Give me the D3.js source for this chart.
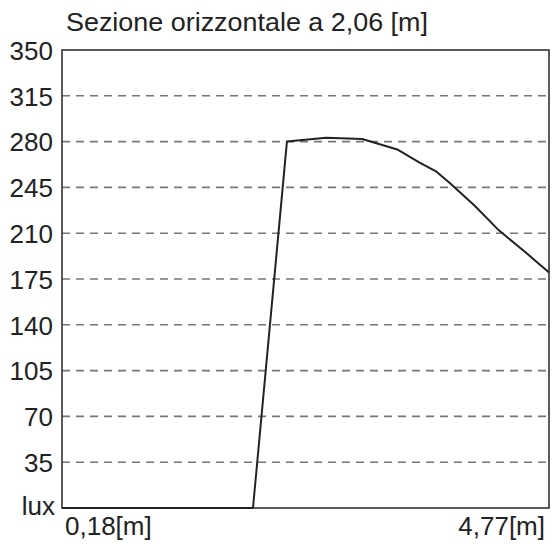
<!DOCTYPE html>
<html><head><meta charset="utf-8">
<script src="https://cdn.jsdelivr.net/npm/d3@7"></script>
<style>body{margin:0;background:#fff}svg{display:block}</style>
</head><body><svg id="c" width="553" height="544"></svg>
<script>
const title = "Sezione orizzontale a 2,06 [m]";
const xPos = [0.18, 1.98, 2.30, 2.67, 3.01, 3.34, 3.55, 3.71, 3.84, 4.07, 4.30, 4.54, 4.77];
const lux  = [0,    0,    280,  283,  282,  274,  264,  257,  248,  231,  212,  196,  180];
const yTicks = [35, 70, 105, 140, 175, 210, 245, 280, 315, 350];
const xLabels = ["0,18[m]", "4,77[m]"];
const yUnit = "lux";

const svg = d3.select("#c");
const font = "'Liberation Sans', Arial, sans-serif";
const fs = 26;
const m = {l:62, r:549, t:50, b:508};
const x = d3.scaleLinear().domain([0.18, 4.77]).range([m.l, m.r]);
const y = d3.scaleLinear().domain([0, 350]).range([m.b, m.t]);

// gridlines
svg.append("g").selectAll("line").data(yTicks.filter(d => d < 350)).join("line")
  .attr("x1", m.l).attr("x2", m.r)
  .attr("y1", d => y(d)).attr("y2", d => y(d))
  .attr("stroke", "#777").attr("stroke-width", 1.6).attr("stroke-dasharray", "8,6");

// frame
svg.append("rect").attr("x", m.l).attr("y", m.t).attr("width", m.r - m.l).attr("height", m.b - m.t)
  .attr("fill", "none").attr("stroke", "#333").attr("stroke-width", 1.6);

// y labels
const yAxis = d3.axisLeft(y).tickValues(yTicks).tickSize(0).tickPadding(9);
const ga = svg.append("g").attr("transform", `translate(${m.l},0)`).call(yAxis);
ga.select(".domain").remove();
ga.selectAll("text").attr("font-family", font).attr("font-size", fs).attr("fill", "#222").attr("dy", "0.36em");
svg.append("text").attr("x", m.l - 7).attr("y", y(0)).attr("dy", "0.25em").attr("text-anchor", "end")
  .attr("font-family", font).attr("font-size", fs).attr("fill", "#222").text(yUnit);

// x labels
svg.append("text").attr("x", x(0.18) + 3).attr("y", 535).attr("font-family", font).attr("font-size", fs)
  .attr("fill", "#222").text(xLabels[0]);
svg.append("text").attr("x", x(4.77) - 4).attr("y", 535).attr("text-anchor", "end").attr("font-family", font)
  .attr("font-size", fs).attr("fill", "#222").text(xLabels[1]);

// title
svg.append("text").attr("x", 66).attr("y", 31).attr("font-family", font).attr("font-size", fs)
  .attr("textLength", 362).attr("lengthAdjust", "spacingAndGlyphs")
  .attr("fill", "#222").text(title);

// curve
svg.append("path").datum(xPos.map((v, i) => [v, lux[i]]))
  .attr("d", d3.line().x(d => x(d[0])).y(d => y(d[1])))
  .attr("fill", "none").attr("stroke", "#222").attr("stroke-width", 2).attr("stroke-linejoin", "round");
</script></body></html>
